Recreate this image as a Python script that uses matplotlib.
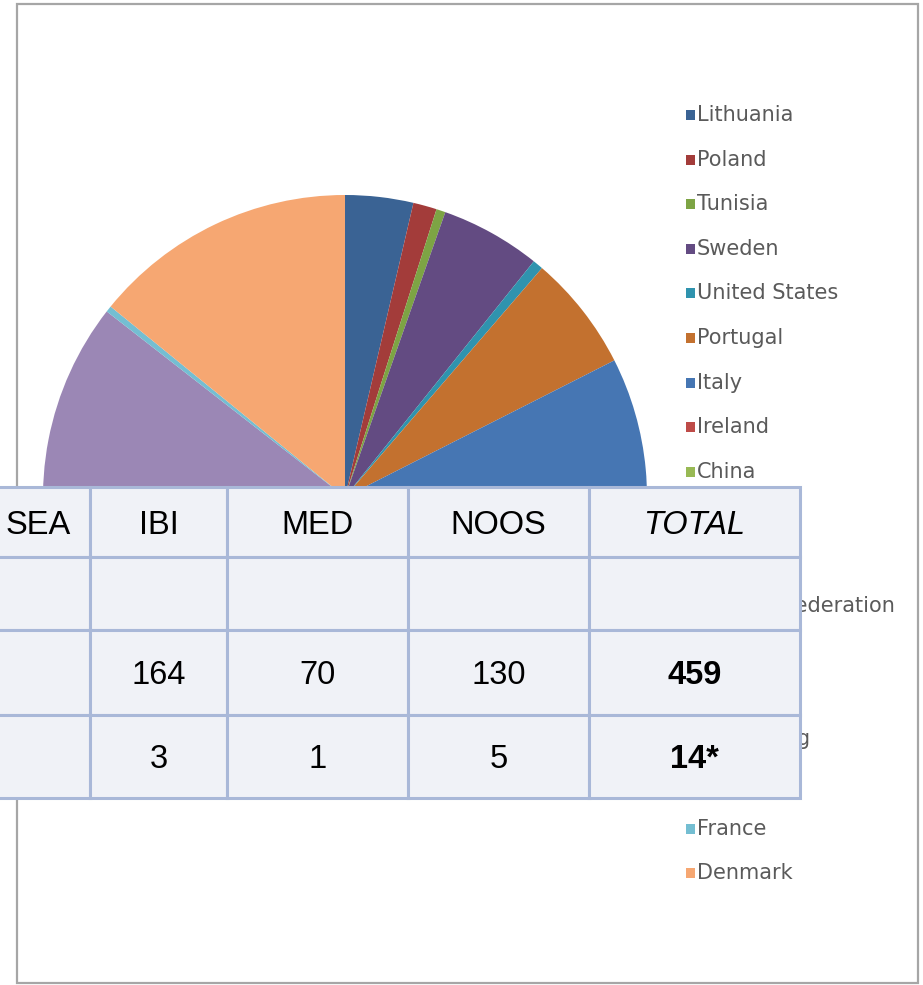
import matplotlib.pyplot as plt
from matplotlib.patches import Rectangle

countries = ["Lithuania", "Poland", "Tunisia", "Sweden", "United States", "Portugal",
             "Italy", "Ireland", "China", "Spain", "Greece", "Russian Federation",
             "Norway", "Latvia", "Hong Kong", "Finland", "France", "Denmark"]
shares = [3.64, 1.26, 0.49, 5.36, 0.56, 6.22,
          12.0, 3.0, 1.0, 9.0, 2.0, 4.0,
          10.0, 8.0, 4.0, 15.0, 0.33, 14.14]
colors = ["#3a6394", "#a33c3a", "#7da444", "#634b82", "#2f93ae", "#c3712f",
          "#4676b3", "#be4b48", "#98b954", "#7d60a0", "#46aac5", "#f69240",
          "#7b9acb", "#cf7f7d", "#b3cb85", "#9b87b5", "#74bed2", "#f6a772"]

# table data
header = ["SEA", "IBI", "MED", "NOOS", "TOTAL"]
row_blank = ["", "", "", "", ""]
row_count = ["", "164", "70", "130", "459"]
row_small = ["", "3", "1", "5", "14*"]

W, H = 923, 985
fig = plt.figure(figsize=(W / 100, H / 100), dpi=100)
ax = fig.add_axes([0, 0, 1, 1])

# pie (y axis is inverted later, so angles run clockwise on screen)
ax.pie(shares, colors=colors, startangle=-90, counterclock=True,
       center=(345, 497), radius=302, frame=True,
       wedgeprops=dict(linewidth=0.6, edgecolor="none", antialiased=True))

# chart frame
ax.add_patch(Rectangle((17, 4), 901, 979, fill=False, edgecolor="#a6a6a6", linewidth=1.6, zorder=1))

# legend
for i, (name, c) in enumerate(zip(countries, colors)):
    y = 115 + i * 44.6
    ax.add_patch(Rectangle((686, y - 5), 9, 10, facecolor=c, edgecolor="none", zorder=3))
    ax.text(697, y, name, fontsize=15, family="DejaVu Sans", color="#5a5a5a",
            va="center", ha="left", zorder=3)

# table on top
col_edges = [-40, 90, 227, 408, 589, 800]
row_edges = [487, 557, 630, 715, 798]
rows = [header, row_blank, row_count, row_small]
for r, row in enumerate(rows):
    y0, y1 = row_edges[r], row_edges[r + 1]
    for c, val in enumerate(row):
        x0, x1 = col_edges[c], col_edges[c + 1]
        ax.add_patch(Rectangle((x0, y0), x1 - x0, y1 - y0, facecolor="#f0f2f7",
                               edgecolor="#a9b8d8", linewidth=2.2, zorder=10))
        if not val:
            continue
        style = "italic" if (r == 0 and c == 4) else "normal"
        weight = "bold" if (r > 0 and c == 4) else "normal"
        xc = (x0 + x1) / 2 if c > 0 else 38.5
        ax.text(xc, (y0 + y1) / 2 + 3, val, fontsize=23.5, family="Liberation Sans",
                fontstyle=style, fontweight=weight, color="black",
                ha="center", va="center", zorder=11)

ax.set_xlim(0, W)
ax.set_ylim(H, 0)
ax.set_aspect("auto")
ax.axis("off")

fig.savefig("out.png", dpi=100, facecolor="white")
